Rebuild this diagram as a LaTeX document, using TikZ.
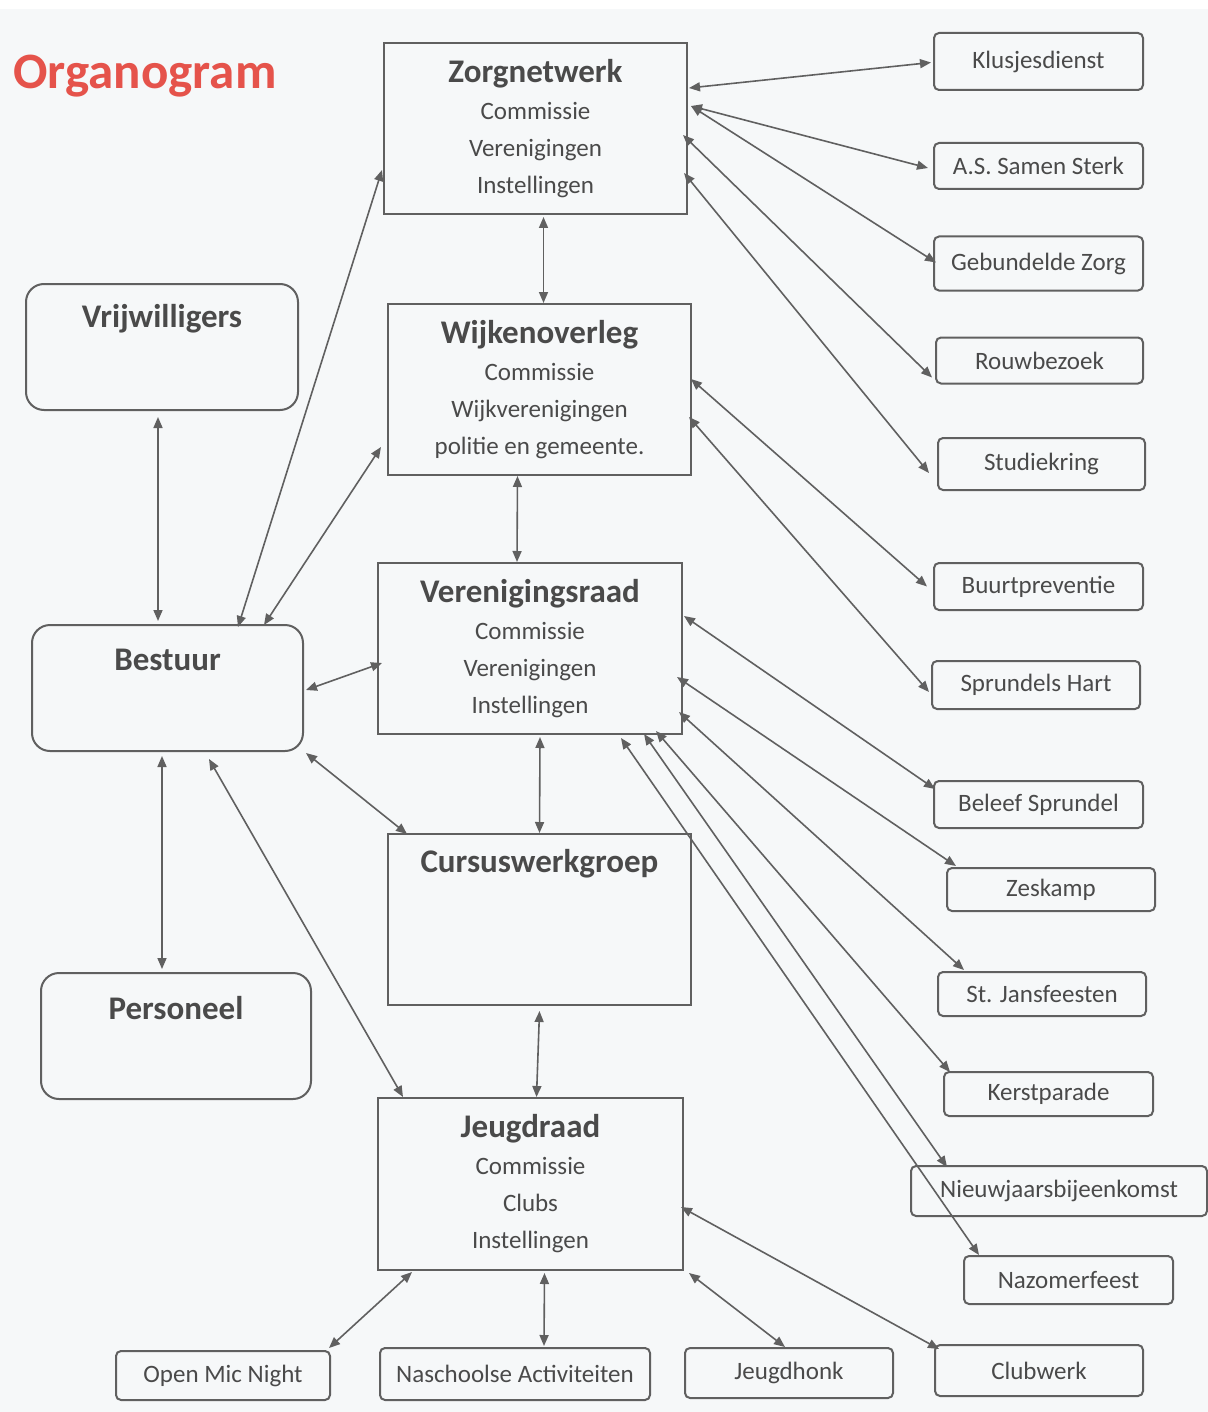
\documentclass[tikz,border=0pt]{standalone}
\usepackage{fontspec}
\setmainfont{Carlito}
\usetikzlibrary{arrows.meta,calc}
\definecolor{bgc}{HTML}{F6F8F9}
\definecolor{linec}{HTML}{606060}
\definecolor{txt}{HTML}{4A4A4A}
\definecolor{titlered}{HTML}{E5534B}
\newcommand{\ttl}[1]{{\fontsize{16.5}{19}\selectfont\bfseries #1}}
\begin{document}
\begin{tikzpicture}[x=0.5pt,y=-0.5pt,
  bigbox/.style={draw=linec, line width=1pt, inner sep=0pt, align=center, text=txt,
    font=\fontsize{12.5}{18.5}\selectfont},
  rbig/.style={draw=linec, line width=1pt, rounded corners=9pt, inner sep=0pt},
  sbox/.style={draw=linec, line width=1pt, rounded corners=2.5pt, inner sep=0pt, text=txt,
    font=\fontsize{12.5}{15}\selectfont},
  hd/.style={text=txt, font=\fontsize{16.5}{19}\selectfont\bfseries, inner sep=0pt},
  conn/.style={{Triangle[length=5.5pt,width=4.5pt]}-{Triangle[length=5.5pt,width=4.5pt]}, draw=linec, line width=0.8pt}
]
\useasboundingbox (0,0) rectangle (1208,1412);
\fill[bgc] (0,0) rectangle (1208,1412);
\fill[white] (0,0) rectangle (1208,9);

\node[anchor=west, text=titlered, font=\fontsize{25.5}{28}\selectfont\bfseries, inner sep=0pt] (title) at (13,76) {Organogram};

% big boxes
\node[bigbox, minimum width=151.5pt, minimum height=85.5pt] (zorg) at (535.5,128.5)
  {\ttl{Zorgnetwerk}\\ Commissie\\ Verenigingen\\ Instellingen};
\node[bigbox, minimum width=151.5pt, minimum height=85.5pt] (wijk) at (539.5,389.5)
  {\ttl{Wijkenoverleg}\\ Commissie\\ Wijkverenigingen\\ politie en gemeente.};
\node[bigbox, minimum width=152pt, minimum height=85.5pt] (ver) at (530,648.5)
  {\ttl{Verenigingsraad}\\ Commissie\\ Verenigingen\\ Instellingen};
\node[bigbox, minimum width=151.5pt, minimum height=85.5pt] (curs) at (539.5,919.5) {};
\node[hd] (curst) at ($(curs.north)+(0,31)$) {Cursuswerkgroep};
\node[bigbox, minimum width=152.5pt, minimum height=86pt] (jeugd) at (530.5,1184)
  {\ttl{Jeugdraad}\\ Commissie\\ Clubs\\ Instellingen};

% rounded big boxes
\node[rbig, minimum width=136pt, minimum height=63pt] (vrij) at (162,347) {};
\node[hd] (vrijt) at ($(vrij.north)+(0,36)$) {Vrijwilligers};
\node[rbig, minimum width=135.5pt, minimum height=63pt] (best) at (167.5,688) {};
\node[hd] (bestt) at ($(best.north)+(0,36)$) {Bestuur};
\node[rbig, minimum width=135pt, minimum height=63pt] (pers) at (176,1036) {};
\node[hd] (perst) at ($(pers.north)+(0,36)$) {Personeel};

% small boxes right
\node[sbox, minimum width=104.5pt, minimum height=28.5pt] (klus) at (1038.5,61.5) {Klusjesdienst};
\node[sbox, minimum width=104.5pt, minimum height=23pt] (samen) at (1038.5,166) {A.S. Samen Sterk};
\node[sbox, minimum width=104.5pt, minimum height=27pt] (gebund) at (1038.5,263.5) {Gebundelde Zorg};
\node[sbox, minimum width=103.5pt, minimum height=23pt] (rouw) at (1039.5,360.5) {Rouwbezoek};
\node[sbox, minimum width=103.5pt, minimum height=26pt] (studie) at (1041.5,464) {Studiekring};
\node[sbox, minimum width=104.5pt, minimum height=23.5pt] (buurt) at (1038.5,586.5) {Buurtpreventie};
\node[sbox, minimum width=104pt, minimum height=24pt] (sprund) at (1036,685) {Sprundels Hart};
\node[sbox, minimum width=104.5pt, minimum height=23.5pt] (beleef) at (1038.5,804.5) {Beleef Sprundel};
\node[sbox, minimum width=104pt, minimum height=21.5pt] (zeskamp) at (1051,889.5) {Zeskamp};
\node[sbox, minimum width=104pt, minimum height=22pt] (jans) at (1042,994) {St. Jansfeesten};
\node[sbox, minimum width=104.5pt, minimum height=22pt] (kerst) at (1048.5,1094) {Kerstparade};
\node[sbox, minimum width=148pt, minimum height=25pt] (nieuw) at (1059,1191) {Nieuwjaarsbijeenkomst};
\node[sbox, minimum width=104.5pt, minimum height=24pt] (nazomer) at (1068.5,1280) {Nazomerfeest};
\node[sbox, minimum width=104pt, minimum height=25.5pt] (club) at (1039,1370.5) {Clubwerk};
% bottom row
\node[sbox, minimum width=104pt, minimum height=25pt] (honk) at (789,1373) {Jeugdhonk};
\node[sbox, minimum width=135pt, minimum height=26pt] (nasch) at (515,1374) {Naschoolse Activiteiten};
\node[sbox, minimum width=107pt, minimum height=24.5pt] (openmic) at (223,1375.5) {Open Mic Night};

% connectors Zorgnetwerk
\draw[conn] ($(zorg.north east)+(1,46)$) -- ($(klus.west)+(-2,1)$);
\draw[conn] ($(zorg.north east)+(3,64)$) -- ($(samen.west)+(-5,2)$);
\draw[conn] ($(zorg.north east)+(3,64)$) -- ($(gebund.west)+(3,-1)$);
\draw[conn] ($(zorg.north east)+(-5,93)$) -- ($(rouw.west)+(-3,17)$);
\draw[conn] ($(zorg.north east)+(-4,131)$) -- ($(studie.west)+(-8,9)$);
% Wijkenoverleg
\draw[conn] ($(wijk.north east)+(-1,76)$) -- ($(buurt.west)+(-6,0)$);
\draw[conn] ($(wijk.north east)+(-3,114)$) -- ($(sprund.west)+(-2,7)$);
% Verenigingsraad
\draw[conn] ($(ver.north east)+(1,54)$) -- ($(beleef.north west)+(2,9)$);
\draw[conn] ($(ver.north east)+(-6,115)$) -- ($(zeskamp.north west)+(10,-1)$);
\draw[conn] ($(ver.north east)+(-4,150)$) -- ($(jans.north west)+(27,-1)$);
\draw[conn] ($(ver.south east)+(-27,-4)$) -- ($(kerst.north west)+(7,1)$);
\draw[conn] ($(ver.south east)+(-39,-1)$) -- ($(nieuw.north west)+(37,2)$);
\draw[conn] ($(ver.south east)+(-62,3)$) -- ($(nazomer.north west)+(16,0)$);
% vertical chain
\draw[conn] ($(zorg.south)+(8,2)$) -- ($(wijk.north)+(4,0)$);
\draw[conn] ($(wijk.south)+(-22,0)$) -- ($(ver.north)+(-13,0)$);
\draw[conn] ($(ver.south)+(10,2)$) -- (curs.north);
\draw[conn] ($(curs.south)+(0,5)$) -- ($(jeugd.north)+(6,0)$);
% Jeugdraad
\draw[conn] ($(jeugd.south west)+(35,1)$) -- ($(openmic.north east)+(-2,-2)$);
\draw[conn] ($(jeugd.south)+(14,2)$) -- ($(nasch.north)+(29,-1)$);
\draw[conn] ($(jeugd.south east)+(5,2)$) -- ($(honk.north)+(-4,0)$);
\draw[conn] ($(jeugd.east)+(-3,23)$) -- ($(club.north west)+(5,5)$);
% Bestuur
\draw[conn] ($(vrij.south)+(-4,6)$) -- ($(best.north)+(-9.5,-3)$);
\draw[conn] ($(best.south)+(-5.5,4)$) -- ($(pers.north)+(-14,-3)$);
\draw[conn] ($(best.north)+(70.5,3)$) -- ($(zorg.north west)+(-1,128)$);
\draw[conn] ($(best.north)+(96.5,1)$) -- ($(wijk.west)+(-6,57.5)$);
\draw[conn] ($(best.east)+(2,2)$) -- ($(ver.west)+(5,14.5)$);
\draw[conn] ($(best.south east)+(2,1)$) -- ($(curs.north west)+(20,1)$);
\draw[conn] ($(best.south)+(41.5,7)$) -- ($(jeugd.north west)+(26,0)$);
\end{tikzpicture}
\end{document}
